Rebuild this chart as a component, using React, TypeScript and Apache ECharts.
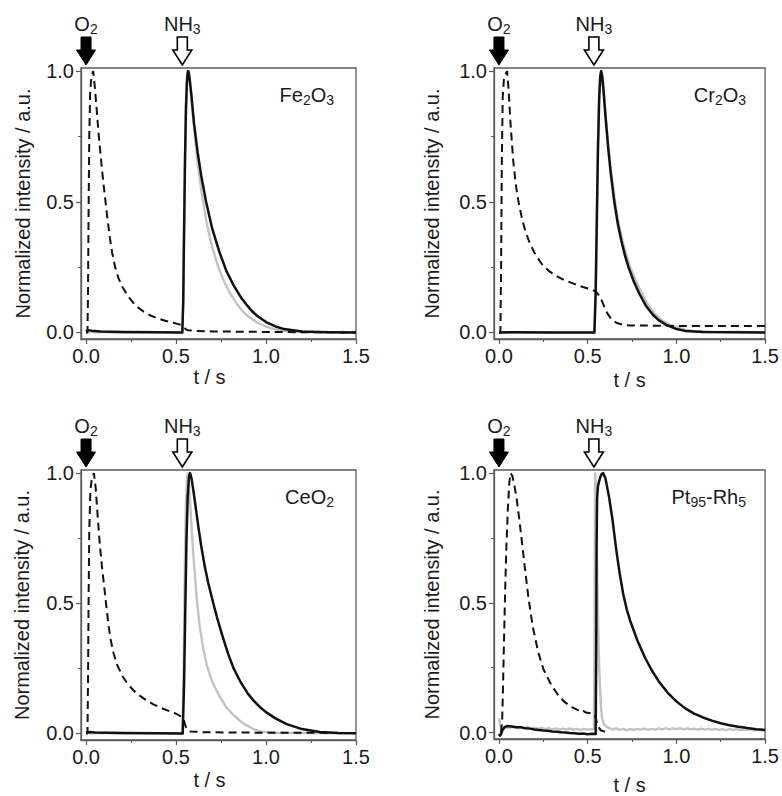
import React, { useEffect, useRef } from "react";
import * as echarts from "echarts";

// ---------- axis ticks ----------
const xTicks = [0, 0.5, 1.0, 1.5];
const xMinorTicks = [0.25, 0.75, 1.25];
const yTicks = [0, 0.5, 1.0];
const yMinorTicks = [0.25, 0.75];
const xMin = -0.028;
const xMax = 1.5;
const yMin = -0.025;
const yMax = 1.012;

// pulse times (s)
const o2PulseTime = 0;
const nh3PulseTime = 0.535;

// ---------- Fe2O3 ----------
const fe2o3Dashed = [
  [0, 0], [0.008, 0], [0.011, 0.15], [0.014, 0.45], [0.018, 0.75], [0.023, 0.92], [0.03, 0.98], [0.04, 1.0],
  [0.05, 0.93], [0.06, 0.845], [0.07, 0.76], [0.08, 0.685], [0.09, 0.615], [0.1, 0.55], [0.11, 0.49], [0.12, 0.43],
  [0.133, 0.36], [0.145, 0.305], [0.161, 0.252], [0.18, 0.208], [0.207, 0.168], [0.235, 0.137], [0.263, 0.113],
  [0.29, 0.095], [0.319, 0.08], [0.355, 0.066], [0.393, 0.055], [0.44, 0.045], [0.485, 0.037], [0.522, 0.03],
  [0.54, 0.022], [0.555, 0.012], [0.57, 0.008], [0.61, 0.006], [0.7, 0.004], [0.85, 0.003], [1.0, 0.002],
  [1.2, 0.001], [1.5, 0.0],
];
const fe2o3Black = [
  [0, 0.004], [0.01, 0.009], [0.03, 0.007], [0.08, 0.004], [0.2, 0.002], [0.4, 0.001], [0.535, 0.0], [0.54, 0.12],
  [0.545, 0.4], [0.55, 0.66], [0.555, 0.85], [0.56, 0.95], [0.564, 0.99], [0.567, 1.0], [0.571, 0.995],
  [0.575, 0.975], [0.585, 0.91], [0.6, 0.8], [0.62, 0.69], [0.64, 0.6], [0.667, 0.5], [0.7, 0.4], [0.74, 0.31],
  [0.78, 0.235], [0.82, 0.18], [0.86, 0.135], [0.89, 0.108], [0.92, 0.083], [0.95, 0.064], [1.0, 0.04],
  [1.05, 0.024], [1.1, 0.013], [1.2, 0.004], [1.35, 0.001], [1.5, 0.0],
];
const fe2o3Gray = [
  [0, 0.002], [0.2, 0.001], [0.535, 0.0], [0.54, 0.12], [0.545, 0.42], [0.55, 0.68], [0.555, 0.87], [0.56, 0.96],
  [0.566, 1.0], [0.575, 0.97], [0.585, 0.9], [0.6, 0.79], [0.62, 0.65], [0.643, 0.53], [0.67, 0.42], [0.7, 0.33],
  [0.735, 0.25], [0.77, 0.19], [0.8, 0.15], [0.837, 0.11], [0.87, 0.082], [0.9, 0.062], [0.95, 0.038],
  [1.0, 0.022], [1.05, 0.012], [1.1, 0.006], [1.2, 0.002], [1.5, 0.0],
];

// ---------- Cr2O3 ----------
const cr2o3Dashed = [
  [0, 0], [0.008, 0], [0.012, 0.25], [0.016, 0.65], [0.021, 0.9], [0.028, 0.97], [0.038, 0.99], [0.046, 1.0],
  [0.055, 0.92], [0.065, 0.8], [0.08, 0.66], [0.095, 0.565], [0.11, 0.5], [0.13, 0.435], [0.148, 0.39], [0.17, 0.348],
  [0.2, 0.305], [0.24, 0.263], [0.28, 0.236], [0.33, 0.214], [0.37, 0.2], [0.42, 0.187], [0.46, 0.177],
  [0.5, 0.168], [0.535, 0.16], [0.555, 0.15], [0.57, 0.136], [0.59, 0.105], [0.61, 0.074], [0.635, 0.05],
  [0.664, 0.036], [0.7, 0.029], [0.74, 0.027], [1.0, 0.025], [1.5, 0.025],
];
const cr2o3Black = [
  [0, 0.0], [0.1, 0.001], [0.3, 0.0], [0.538, 0.0], [0.545, 0.15], [0.552, 0.45], [0.558, 0.7], [0.565, 0.9],
  [0.571, 0.98], [0.576, 1.0], [0.582, 0.98], [0.59, 0.92], [0.6, 0.83], [0.615, 0.71], [0.63, 0.61], [0.65, 0.5],
  [0.67, 0.415], [0.69, 0.35], [0.71, 0.295], [0.73, 0.25], [0.76, 0.195], [0.79, 0.15], [0.83, 0.1],
  [0.87, 0.066], [0.9, 0.047], [0.94, 0.03], [1.0, 0.013], [1.05, 0.006], [1.15, 0.002], [1.5, 0.0],
];
const cr2o3Gray = [
  [0, 0.0], [0.538, 0.0], [0.545, 0.16], [0.552, 0.46], [0.558, 0.72], [0.565, 0.91], [0.571, 0.985],
  [0.575, 1.0], [0.582, 0.985], [0.59, 0.93], [0.6, 0.845], [0.615, 0.725], [0.63, 0.63], [0.65, 0.52],
  [0.67, 0.435], [0.69, 0.37], [0.71, 0.315], [0.74, 0.25], [0.77, 0.2], [0.8, 0.158], [0.845, 0.1],
  [0.88, 0.07], [0.92, 0.046], [0.96, 0.03], [1.0, 0.02], [1.05, 0.011], [1.1, 0.006], [1.2, 0.003], [1.5, 0.001],
];

// ---------- CeO2 ----------
const ceo2Dashed = [
  [0, 0], [0.008, 0], [0.011, 0.2], [0.014, 0.5], [0.018, 0.78], [0.024, 0.93], [0.032, 0.98], [0.044, 1.0],
  [0.054, 0.94], [0.064, 0.84], [0.075, 0.74], [0.087, 0.65], [0.1, 0.57], [0.111, 0.5], [0.124, 0.42],
  [0.137, 0.36], [0.152, 0.31], [0.175, 0.26], [0.207, 0.215], [0.24, 0.183], [0.281, 0.154], [0.33, 0.13],
  [0.374, 0.112], [0.42, 0.097], [0.467, 0.085], [0.5, 0.076], [0.522, 0.068], [0.54, 0.06], [0.55, 0.035],
  [0.56, 0.015], [0.58, 0.008], [0.65, 0.005], [0.8, 0.004], [1.0, 0.003], [1.5, 0.002],
];
const ceo2Black = [
  [0, 0.004], [0.01, 0.006], [0.05, 0.004], [0.2, 0.002], [0.4, 0.001], [0.537, 0.0], [0.545, 0.2], [0.552, 0.5],
  [0.558, 0.74], [0.565, 0.91], [0.572, 0.985], [0.578, 1.0], [0.586, 0.98], [0.596, 0.935], [0.61, 0.865],
  [0.625, 0.79], [0.64, 0.72], [0.66, 0.64], [0.68, 0.575], [0.707, 0.5], [0.73, 0.44], [0.76, 0.37],
  [0.79, 0.305], [0.82, 0.25], [0.86, 0.196], [0.9, 0.152], [0.935, 0.123], [0.967, 0.101], [1.0, 0.082],
  [1.05, 0.059], [1.115, 0.036], [1.2, 0.017], [1.3, 0.006], [1.4, 0.002], [1.5, 0.001],
];
const ceo2Gray = [
  [0, 0.002], [0.3, 0.001], [0.537, 0.0], [0.543, 0.3], [0.549, 0.65], [0.555, 0.88], [0.56, 0.97], [0.565, 1.0],
  [0.571, 0.97], [0.58, 0.87], [0.59, 0.75], [0.6, 0.65], [0.615, 0.52], [0.63, 0.42], [0.65, 0.33], [0.67, 0.265],
  [0.7, 0.2], [0.74, 0.145], [0.78, 0.1], [0.82, 0.07], [0.86, 0.046], [0.89, 0.032], [0.93, 0.017],
  [0.97, 0.008], [1.05, 0.003], [1.5, 0.001],
];

// ---------- Pt95-Rh5 ----------
const ptrhDashed = [
  [0.012, 0.0], [0.018, 0.05], [0.022, 0.15], [0.026, 0.28], [0.03, 0.4], [0.035, 0.55], [0.042, 0.72],
  [0.05, 0.86], [0.058, 0.96], [0.065, 1.0], [0.075, 0.99], [0.085, 0.96], [0.1, 0.9], [0.115, 0.82],
  [0.13, 0.73], [0.145, 0.64], [0.166, 0.52], [0.19, 0.41], [0.221, 0.31], [0.25, 0.245], [0.295, 0.183],
  [0.33, 0.148], [0.369, 0.118], [0.41, 0.098], [0.443, 0.087], [0.46, 0.079], [0.475, 0.083], [0.49, 0.077],
  [0.517, 0.074], [0.54, 0.07], [0.55, 0.045], [0.56, 0.022], [0.575, 0.008], [0.6, 0.003],
];
const ptrhBlack = [
  [0, -0.005], [0.006, -0.012], [0.012, -0.005], [0.02, 0.01], [0.03, 0.02], [0.045, 0.025], [0.06, 0.024],
  [0.08, 0.022], [0.1, 0.02], [0.125, 0.02], [0.15, 0.016], [0.175, 0.015], [0.2, 0.012], [0.225, 0.01],
  [0.25, 0.008], [0.275, 0.007], [0.3, 0.004], [0.325, 0.003], [0.35, 0.001], [0.375, 0.0], [0.4, -0.002],
  [0.425, -0.003], [0.45, -0.005], [0.475, -0.004], [0.5, -0.007], [0.525, -0.005], [0.545, -0.006],
  [0.548, 0.3], [0.55, 0.7], [0.553, 0.9], [0.558, 0.95], [0.567, 0.975], [0.577, 0.995], [0.587, 1.0],
  [0.6, 0.98], [0.62, 0.91], [0.64, 0.82], [0.66, 0.71], [0.68, 0.615], [0.7, 0.535], [0.72, 0.475],
  [0.74, 0.43], [0.78, 0.355], [0.82, 0.293], [0.86, 0.241], [0.9, 0.198], [0.95, 0.154], [1.0, 0.12],
  [1.05, 0.093], [1.1, 0.073], [1.15, 0.058], [1.2, 0.046], [1.25, 0.036], [1.3, 0.028], [1.35, 0.022],
  [1.4, 0.017], [1.45, 0.013], [1.5, 0.01],
];
const ptrhGray = [
  [0, 0.055], [0.005, 0.04], [0.01, 0.015], [0.015, 0.008], [0.025, 0.012], [0.04, 0.02], [0.06, 0.018],
  [0.08, 0.022], [0.1, 0.017], [0.12, 0.02], [0.14, 0.016], [0.16, 0.021], [0.18, 0.015], [0.2, 0.019],
  [0.22, 0.014], [0.24, 0.018], [0.26, 0.013], [0.28, 0.017], [0.3, 0.012], [0.32, 0.016], [0.34, 0.011],
  [0.36, 0.015], [0.38, 0.012], [0.4, 0.016], [0.42, 0.011], [0.44, 0.014], [0.46, 0.01], [0.48, 0.014],
  [0.5, 0.011], [0.52, 0.013], [0.535, 0.012], [0.538, 0.3], [0.54, 0.75], [0.543, 1.0], [0.546, 0.95],
  [0.55, 0.8], [0.555, 0.55], [0.56, 0.38], [0.565, 0.25], [0.57, 0.17], [0.575, 0.1], [0.58, 0.06],
  [0.59, 0.035], [0.6, 0.025], [0.62, 0.018], [0.64, 0.012], [0.66, 0.016], [0.68, 0.01], [0.7, 0.014],
  [0.72, 0.009], [0.74, 0.013], [0.76, 0.01], [0.78, 0.014], [0.8, 0.011], [0.82, 0.015], [0.84, 0.01],
  [0.86, 0.014], [0.88, 0.011], [0.9, 0.016], [0.92, 0.012], [0.94, 0.017], [0.96, 0.012], [0.98, 0.016],
  [1.0, 0.013], [1.02, 0.017], [1.04, 0.012], [1.06, 0.016], [1.08, 0.012], [1.1, 0.015], [1.12, 0.011],
  [1.14, 0.015], [1.16, 0.011], [1.18, 0.014], [1.2, 0.01], [1.22, 0.014], [1.24, 0.01], [1.26, 0.013],
  [1.28, 0.009], [1.3, 0.013], [1.32, 0.01], [1.34, 0.013], [1.36, 0.009], [1.38, 0.012], [1.4, 0.009],
  [1.42, 0.012], [1.44, 0.008], [1.46, 0.011], [1.48, 0.008], [1.5, 0.01],
];

// panel labels as rich-text parts: [text, isSubscript]
const fe2o3Label = [["Fe", 0], ["2", 1], ["O", 0], ["3", 1]];
const cr2o3Label = [["Cr", 0], ["2", 1], ["O", 0], ["3", 1]];
const ceo2Label = [["CeO", 0], ["2", 1]];
const ptrhLabel = [["Pt", 0], ["95", 1], ["-Rh", 0], ["5", 1]];
const o2Label = [["O", 0], ["2", 1]];
const nh3Label = [["NH", 0], ["3", 1]];

const xAxisName = "t / s";
const yAxisName = "Normalized intensity / a.u.";

const FONT = '"Liberation Sans", Arial, Helvetica, sans-serif';
const TEXT = "#1a1a1a";
const FRAME = "#5a5a5a";

const panels = [
  { label: fe2o3Label, dashed: fe2o3Dashed, black: fe2o3Black, gray: fe2o3Gray },
  { label: cr2o3Label, dashed: cr2o3Dashed, black: cr2o3Black, gray: cr2o3Gray },
  { label: ceo2Label, dashed: ceo2Dashed, black: ceo2Black, gray: ceo2Gray },
  { label: ptrhLabel, dashed: ptrhDashed, black: ptrhBlack, gray: ptrhGray },
];

const layout = [
  { left: 81, top: 68, width: 275, height: 271, xNameGap: 27, xNameShift: 18, yNameGap: 48 },
  { left: 494, top: 68, width: 274, height: 271, xNameGap: 31, xNameShift: 0, yNameGap: 52 },
  { left: 81, top: 470, width: 275, height: 270, xNameGap: 30, xNameShift: 18, yNameGap: 49 },
  { left: 494, top: 470, width: 274, height: 270, xNameGap: 36, xNameShift: 0, yNameGap: 52 },
];

const rich = {
  m: { fontSize: 20, lineHeight: 24, fontFamily: FONT, fill: TEXT, color: TEXT },
  s: { fontSize: 14, lineHeight: 12, verticalAlign: "bottom", fontFamily: FONT, fill: TEXT, color: TEXT },
};
const toRich = (parts: any[]) => parts.map(([t, s]) => `{${s ? "s" : "m"}|${t}}`).join("");

function arrowPoints(cx: number, tipY: number) {
  const hw = 9.5, sw = 5, headH = 15, total = 28;
  return [
    [cx - sw, tipY - total], [cx + sw, tipY - total], [cx + sw, tipY - headH], [cx + hw, tipY - headH],
    [cx, tipY], [cx - hw, tipY - headH], [cx - sw, tipY - headH],
  ];
}

export default function App() {
  const ref = useRef<HTMLDivElement>(null);
  useEffect(() => {
    if (!ref.current) return;
    const chart = echarts.init(ref.current, null, { renderer: "svg" });
    const fmt = (v: number) => v.toFixed(1);
    const grids: any[] = [];
    const xAxes: any[] = [];
    const yAxes: any[] = [];
    const series: any[] = [];
    layout.forEach((g) => {
      grids.push({
        left: g.left, top: g.top, width: g.width, height: g.height,
        show: true, borderColor: FRAME, borderWidth: 1.3, backgroundColor: "transparent",
      });
    });
    layout.forEach((g, i) => {
      xAxes.push({
        gridIndex: i, type: "value", min: xMin, max: xMax, position: "bottom",
        axisLine: { show: true, onZero: false, lineStyle: { color: FRAME, width: 1.3 } },
        axisTick: { show: true, customValues: xTicks, length: 5, lineStyle: { color: FRAME, width: 1.2 } },
        axisLabel: { customValues: xTicks, formatter: fmt, fontSize: 20, fontFamily: FONT, color: TEXT, margin: 7 },
        splitLine: { show: false },
        name: xAxisName, nameLocation: "middle", nameGap: g.xNameGap,
        nameTextStyle: { fontSize: 20, fontFamily: FONT, color: TEXT, padding: [0, g.xNameShift, 0, 0] },
      });
      yAxes.push({
        gridIndex: i, type: "value", min: yMin, max: yMax, position: "left",
        axisLine: { show: true, onZero: false, lineStyle: { color: FRAME, width: 1.3 } },
        axisTick: { show: true, customValues: yTicks, length: 5, lineStyle: { color: FRAME, width: 1.2 } },
        axisLabel: { customValues: yTicks, formatter: fmt, fontSize: 20, fontFamily: FONT, color: TEXT, margin: 7 },
        splitLine: { show: false },
        name: yAxisName, nameLocation: "middle", nameGap: g.yNameGap,
        nameTextStyle: { fontSize: 20, fontFamily: FONT, color: TEXT },
      });
    });
    layout.forEach((g, i) => {
      xAxes.push({
        gridIndex: i, type: "value", min: xMin, max: xMax, position: "bottom",
        axisLine: { show: false, onZero: false },
        axisTick: { show: true, customValues: xMinorTicks, length: 3, lineStyle: { color: FRAME, width: 1 } },
        axisLabel: { show: false }, splitLine: { show: false },
      });
      yAxes.push({
        gridIndex: i, type: "value", min: yMin, max: yMax, position: "left",
        axisLine: { show: false, onZero: false },
        axisTick: { show: true, customValues: yMinorTicks, length: 3, lineStyle: { color: FRAME, width: 1 } },
        axisLabel: { show: false }, splitLine: { show: false },
      });
    });
    panels.forEach((p, i) => {
      const common = {
        type: "line", xAxisIndex: i, yAxisIndex: i, showSymbol: false, symbol: "none", silent: true,
        smooth: false,
      };
      series.push({ ...common, name: `gray ${i}`, data: p.gray, z: 2, lineStyle: { color: "#c2c2c2", width: 2.4, join: "round" } });
      series.push({ ...common, name: `O2 ${i}`, data: p.dashed, z: 3, lineStyle: { color: "#111", width: 2, type: [8, 5] } });
      series.push({ ...common, name: `black ${i}`, data: p.black, z: 4, lineStyle: { color: "#111", width: 2.5, join: "round" } });
    });
    chart.setOption({
      animation: false,
      backgroundColor: "#fff",
      grid: grids,
      xAxis: xAxes,
      yAxis: yAxes,
      series,
    });

    const graphics: any[] = [];
    layout.forEach((g, i) => {
      const tipY = g.top - 3;
      const o2x = chart.convertToPixel({ xAxisIndex: i }, o2PulseTime) as number;
      const nh3x = chart.convertToPixel({ xAxisIndex: i }, nh3PulseTime) as number;
      graphics.push({
        type: "polygon", z: 100, shape: { points: arrowPoints(o2x, tipY) },
        style: { fill: "#000", stroke: "#000", lineWidth: 1 },
      });
      graphics.push({
        type: "polygon", z: 100, shape: { points: arrowPoints(nh3x, tipY) },
        style: { fill: "#fff", stroke: "#000", lineWidth: 1.6 },
      });
      graphics.push({
        type: "text", z: 100, x: o2x, y: tipY - 41,
        style: { text: toRich(o2Label), rich, align: "center", verticalAlign: "middle", fill: TEXT },
      });
      graphics.push({
        type: "text", z: 100, x: nh3x, y: tipY - 41,
        style: { text: toRich(nh3Label), rich, align: "center", verticalAlign: "middle", fill: TEXT },
      });
      graphics.push({
        type: "text", z: 100, x: g.left + g.width - 22, y: g.top + 27,
        style: { text: toRich(panels[i].label), rich, align: "right", verticalAlign: "middle", fill: TEXT },
      });
    });
    chart.setOption({ graphic: graphics });
    return () => chart.dispose();
  }, []);
  return (
    <div
      ref={ref}
      style={{ position: "absolute", left: 0, top: 0, width: 782, height: 796, background: "#fff" }}
    />
  );
}
